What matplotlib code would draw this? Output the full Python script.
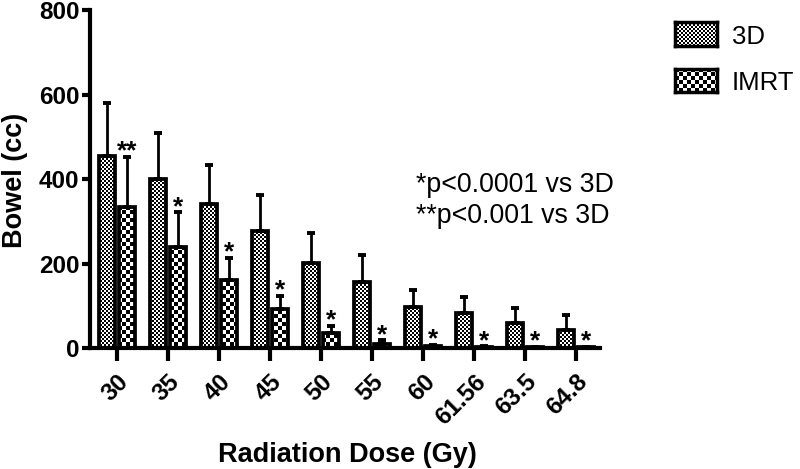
import numpy as np
import matplotlib
matplotlib.use("Agg")
import matplotlib.pyplot as plt
from matplotlib.path import Path

# ---- data ----
doses = ["30", "35", "40", "45", "50", "55", "60", "61.56", "63.5", "64.8"]
mean_3d = [454, 400, 341, 278, 201, 157, 98, 82, 58, 43]
err_3d = [125, 108, 93, 85, 72, 64, 40, 38, 36, 34]
mean_imrt = [334, 240, 162, 93, 35, 10, 4, 3, 2, 2]
err_imrt = [118, 81, 52, 31, 18, 8, 3, 1, 1, 1]
stars = ["**", "*", "*", "*", "*", "*", "*", "*", "*", "*"]
series_names = ["3D", "IMRT"]
notes = ["*p<0.0001 vs 3D", "**p<0.001 vs 3D"]
yticks = [0, 200, 400, 600, 800]

plt.rcParams['font.family'] = ['Liberation Sans', 'DejaVu Sans']

W, H, DPI = 800, 469, 100
fig = plt.figure(figsize=(W / DPI, H / DPI), dpi=DPI)
ax_l, ax_r, ax_b, ax_t = 90, 600, 348, 10
ax = fig.add_axes([ax_l / W, (H - ax_b) / H, (ax_r - ax_l) / W, (ax_b - ax_t) / H])

x = np.arange(len(doses))
xlim = (-0.53, len(doses) - 1 + 0.47)
ylim = (0, 800)
ax.set_xlim(*xlim)
ax.set_ylim(*ylim)

bw = 0.31
off = 0.195


def checker(h, w, cell):
    yy, xx = np.mgrid[0:h, 0:w]
    return (((xx // cell) + (yy // cell)) % 2).astype(float)


apx_w = ax_r - ax_l
apx_h = ax_b - ax_t

for vals, errs, dx, cell in [(mean_3d, err_3d, -off, 2), (mean_imrt, err_imrt, off, 4)]:
    bars = ax.bar(x + dx, vals, width=bw, facecolor='none', edgecolor='black',
                  linewidth=2.7, zorder=3)
    paths = [b.get_path().transformed(b.get_patch_transform()) for b in bars]
    cp = Path.make_compound_path(*paths)
    im = ax.imshow(checker(apx_h, apx_w, cell), cmap='gray', vmin=0, vmax=1,
                   extent=(xlim[0], xlim[1], ylim[0], ylim[1]), aspect='auto',
                   interpolation='nearest', zorder=2, origin='upper')
    im.set_clip_path(cp, ax.transData)
    ax.errorbar(x + dx, vals, yerr=[np.zeros(len(vals)), errs], fmt='none',
                ecolor='black', elinewidth=2.0, capsize=3.2, capthick=2.8, zorder=2.5)

for xi, v, e, s in zip(x, mean_imrt, err_imrt, stars):
    ax.text(xi + off, v + e - 4, s, ha='center', va='baseline', fontsize=19,
            fontweight='bold', color='black', zorder=4)

ax.set_xticks(x)
ax.set_xticklabels(doses, rotation=45, ha='right', va='top', rotation_mode='anchor',
                   fontsize=17.5, fontweight='bold')
ax.set_yticks(yticks)
ax.set_yticklabels([str(t) for t in yticks], fontsize=17.5, fontweight='bold')
ax.tick_params(axis='y', length=6, width=3, direction='out', pad=1.5)
ax.tick_params(axis='x', length=9, width=3, direction='out', pad=7)
for sp in ['top', 'right']:
    ax.spines[sp].set_visible(False)
for sp in ['left', 'bottom']:
    ax.spines[sp].set_linewidth(3)
    ax.spines[sp].set_capstyle('projecting')

ax.set_ylabel("Bowel (cc)", fontsize=19.5, fontweight='bold')
ax.yaxis.set_label_coords((28 - ax_l) / apx_w, (ax_b - 180) / apx_h)
ax.set_xlabel("Radiation Dose (Gy)", fontsize=19.5, fontweight='bold')
ax.xaxis.set_label_coords((347 - ax_l) / apx_w, (ax_b - 442) / apx_h)

for t, yb in zip(notes, [192, 223]):
    fig.text(416 / W, 1 - yb / H, t, fontsize=19.3, ha='left', va='baseline')

# legend swatches
for i, (name, cell) in enumerate(zip(series_names, [2, 4])):
    y0 = 22 + 46.5 * i
    sw = fig.add_axes([675 / W, 1 - (y0 + 24) / H, 42 / W, 24 / H])
    sw.imshow(checker(24, 42, cell), cmap='gray', vmin=0, vmax=1, aspect='auto',
              interpolation='nearest')
    sw.set_xticks([])
    sw.set_yticks([])
    for sp in sw.spines.values():
        sp.set_linewidth(2.5)
    fig.text(732 / W, 1 - (y0 + 21.5) / H, name, fontsize=18.5, ha='left', va='baseline')

fig.savefig("out.png", dpi=DPI)
